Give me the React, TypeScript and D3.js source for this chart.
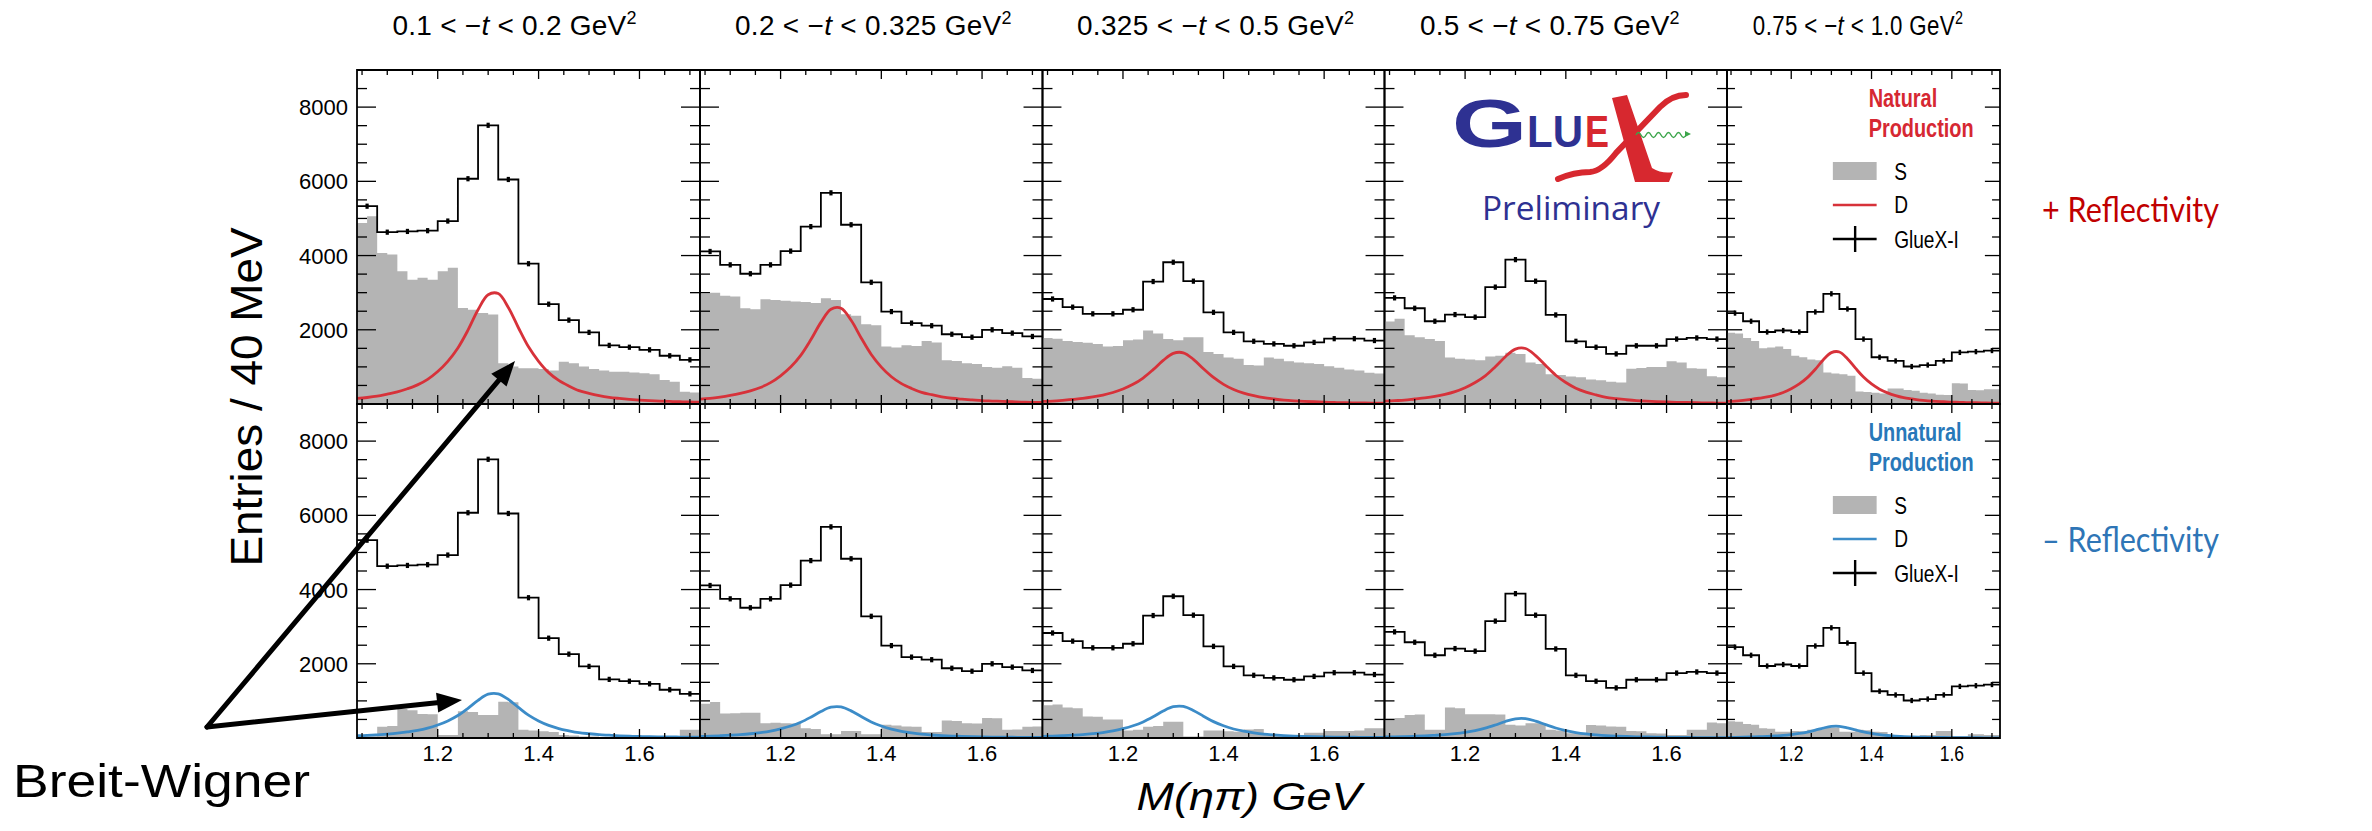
import React from 'react';
import * as d3 from 'd3';

// ---------------- data ----------------
const tLow = ['0.1', '0.2', '0.325', '0.5', '0.75'];
const tHigh = ['0.2', '0.325', '0.5', '0.75', '1.0'];

const massMin = 1.04;
const massMax = 1.72;
const dataBinWidth = 0.04;
const fineBinWidth = 0.02;
const yMax = 9000;

const yTickLabels = [2000, 4000, 6000, 8000];
const xTickLabels = [1.2, 1.4, 1.6];

// GlueX-I data, 40 MeV bins (same in both reflectivity rows)
const glueX_t1 = [5330, 4630, 4650, 4670, 4930, 6070, 7510, 6050, 3780, 2690, 2260, 1930, 1580, 1530, 1460, 1300, 1190];
const glueX_t2 = [4110, 3750, 3510, 3750, 4120, 4780, 5690, 4830, 3280, 2490, 2180, 2110, 1880, 1800, 2000, 1910, 1820];
const glueX_t3 = [2830, 2610, 2430, 2430, 2540, 3300, 3820, 3310, 2470, 1930, 1690, 1620, 1570, 1660, 1760, 1760, 1710];
const glueX_t4 = [2860, 2580, 2230, 2410, 2340, 3150, 3890, 3310, 2400, 1690, 1530, 1350, 1570, 1570, 1750, 1780, 1750];
const glueX_t5 = [2450, 2230, 1940, 1980, 1940, 2480, 2970, 2560, 1750, 1260, 1160, 1010, 1050, 1160, 1390, 1410, 1440];

// S wave, natural (+ reflectivity), 20 MeV bins
const sNat1 = [4880, 5060, 4070, 4030, 3580, 3350, 3400, 3350, 3580, 3670, 2590, 2540, 2450, 2410, 1100, 1010, 960, 960, 940, 900, 1140, 1100, 1010, 940, 900, 870, 870, 850, 830, 800, 650, 600, 330, 310];
const sNat2 = [2970, 3000, 2920, 2900, 2580, 2550, 2820, 2800, 2780, 2760, 2750, 2720, 2850, 2800, 2420, 2380, 2150, 2120, 1550, 1520, 1580, 1560, 1700, 1660, 1180, 1160, 1100, 1080, 1000, 980, 1020, 980, 700, 680];
const sNat3 = [1780, 1760, 1700, 1670, 1650, 1620, 1550, 1560, 1720, 1740, 1980, 1900, 1750, 1720, 1800, 1800, 1400, 1350, 1250, 1220, 1050, 1040, 1250, 1220, 1150, 1120, 1100, 1080, 1020, 980, 930, 900, 840, 820];
const sNat4 = [2220, 2300, 1850, 1800, 1750, 1700, 1250, 1220, 1200, 1180, 1280, 1300, 1380, 1350, 1120, 1080, 800, 780, 740, 720, 660, 640, 600, 580, 950, 970, 1000, 1000, 1150, 1120, 960, 950, 750, 720];
const sNat5 = [1920, 1900, 1780, 1700, 1500, 1520, 1550, 1480, 1300, 1260, 1200, 1180, 850, 820, 800, 760, 340, 320, 300, 280, 420, 420, 380, 360, 300, 280, 250, 240, 560, 550, 380, 370, 400, 400];

// S wave, unnatural (- reflectivity)
const sUnn1 = [50, 50, 300, 320, 780, 750, 650, 640, 80, 80, 720, 700, 620, 620, 980, 960, 220, 200, 180, 160, 80, 70, 40, 40, 30, 30, 20, 20, 20, 20, 20, 20, 220, 220];
const sUnn2 = [920, 970, 660, 670, 680, 680, 400, 410, 400, 390, 260, 240, 100, 100, 190, 190, 100, 100, 360, 340, 310, 300, 160, 160, 470, 460, 400, 390, 540, 530, 220, 230, 300, 310];
const sUnn3 = [880, 900, 820, 800, 580, 570, 500, 500, 200, 220, 300, 320, 440, 440, 40, 40, 200, 200, 180, 170, 230, 240, 80, 80, 60, 50, 140, 140, 190, 190, 190, 200, 260, 260];
const sUnn4 = [520, 540, 620, 630, 220, 220, 820, 800, 640, 640, 640, 630, 360, 340, 400, 400, 220, 200, 130, 120, 350, 340, 310, 300, 190, 180, 130, 120, 80, 80, 220, 220, 420, 400];
const sUnn5 = [450, 440, 380, 360, 260, 250, 170, 170, 190, 180, 220, 220, 280, 280, 170, 170, 220, 210, 170, 160, 80, 70, 50, 50, 80, 80, 190, 190, 50, 50, 100, 100, 80, 80];

// D wave (Breit-Wigner), sampled every 20 MeV from 1.04 to 1.72
const dNat1 = [150, 175, 210, 265, 325, 410, 515, 665, 875, 1150, 1510, 1990, 2540, 2945, 2975, 2600, 2055, 1540, 1150, 845, 635, 485, 360, 285, 225, 180, 150, 125, 105, 90, 80, 70, 60, 55, 50];
const dNat2 = [130, 150, 185, 230, 285, 355, 445, 575, 760, 995, 1310, 1730, 2200, 2555, 2580, 2255, 1780, 1335, 995, 735, 550, 420, 315, 250, 195, 155, 130, 110, 90, 80, 70, 60, 50, 45, 40];
const dNat3 = [70, 80, 100, 125, 150, 190, 240, 310, 405, 530, 700, 925, 1175, 1365, 1380, 1205, 950, 715, 530, 390, 295, 225, 170, 135, 105, 85, 70, 60, 50, 40, 35, 30, 30, 25, 20];
const dNat4 = [75, 90, 105, 135, 165, 205, 260, 335, 440, 580, 760, 1005, 1275, 1480, 1495, 1305, 1035, 775, 580, 425, 320, 245, 180, 145, 115, 90, 75, 65, 55, 45, 40, 35, 30, 25, 25];
const dNat5 = [70, 80, 100, 125, 155, 190, 240, 310, 410, 540, 710, 935, 1195, 1385, 1400, 1220, 965, 725, 540, 400, 300, 225, 170, 135, 105, 85, 70, 60, 50, 45, 35, 35, 30, 25, 25];
const dUnn1 = [60, 70, 85, 105, 130, 165, 205, 265, 350, 460, 605, 800, 1015, 1180, 1190, 1040, 825, 615, 460, 340, 255, 195, 145, 115, 90, 75, 60, 50, 40, 35, 30, 30, 25, 20, 20];
const dUnn2 = [43, 49, 60, 75, 92, 115, 145, 187, 247, 323, 425, 561, 714, 829, 837, 731, 578, 434, 323, 238, 179, 136, 102, 81, 64, 51, 43, 36, 30, 26, 22, 20, 17, 15, 14];
const dUnn3 = [43, 50, 61, 76, 93, 117, 147, 190, 251, 329, 433, 571, 727, 843, 852, 744, 588, 441, 329, 242, 182, 138, 104, 82, 65, 52, 43, 36, 30, 26, 22, 20, 17, 16, 14];
const dUnn4 = [27, 31, 37, 47, 57, 72, 90, 117, 154, 201, 265, 350, 445, 517, 522, 456, 360, 270, 201, 148, 111, 85, 64, 50, 40, 32, 27, 22, 19, 16, 14, 12, 11, 10, 8];
const dUnn5 = [16, 19, 22, 28, 35, 43, 54, 70, 93, 122, 160, 211, 269, 312, 315, 275, 218, 163, 122, 90, 67, 51, 38, 30, 24, 19, 16, 13, 11, 10, 8, 7, 6, 6, 5];

const glueXData = [glueX_t1, glueX_t2, glueX_t3, glueX_t4, glueX_t5];
const sNat = [sNat1, sNat2, sNat3, sNat4, sNat5];
const sUnn = [sUnn1, sUnn2, sUnn3, sUnn4, sUnn5];
const dNat = [dNat1, dNat2, dNat3, dNat4, dNat5];
const dUnn = [dUnn1, dUnn2, dUnn3, dUnn4, dUnn5];

// ---------------- layout / style ----------------
const W = 2372;
const H = 831;
const panelEdges = [357, 700, 1042.5, 1384.5, 1727, 2000];
const rowTops = [70, 404];
const PW = 343;
const PH = 334;
const titleWidths = [244, 277, 278, 260, 264];
const titleShift = [-14, 2, 2, -6, -7];

const FONT = "'Liberation Sans', Arial, Helvetica, sans-serif";
const GRAY = '#b4b4b4';
const RED_D = '#d7323a';
const BLUE_D = '#3c8cc8';
const RED_HDR = '#d62832';
const BLUE_HDR = '#2878b9';
const NAVY = '#2e3192';
const LOGO_RED = '#d7282f';

const NS = { vectorEffect: 'non-scaling-stroke' } as any;

function Panel({ col, row }: { col: number; row: number }) {
  const x = d3.scaleLinear().domain([massMin, massMax]).range([0, PW]);
  const y = d3.scaleLinear().domain([0, yMax]).range([PH, 0]);
  const sx = (panelEdges[col + 1] - panelEdges[col]) / PW;
  const clipId = `clip-${row}-${col}`;

  const data = glueXData[col];
  const s = row === 0 ? sNat[col] : sUnn[col];
  const d = row === 0 ? dNat[col] : dUnn[col];
  const dColor = row === 0 ? RED_D : BLUE_D;

  const sEdges = d3.range(s.length + 1).map((i) => massMin + i * fineBinWidth);
  const sPath = d3
    .area<number>()
    .x((m) => x(m))
    .y0(y(0))
    .y1((_m, i) => y(s[Math.min(i, s.length - 1)]))
    .curve(d3.curveStepAfter)(sEdges);

  const dMass = d3.range(d.length).map((i) => massMin + i * fineBinWidth);
  const dPath = d3
    .line<number>()
    .x((m) => x(m))
    .y((_m, i) => y(d[i]))
    .curve(d3.curveCatmullRom.alpha(0.5))(dMass);

  const dataEdges = d3.range(data.length + 1).map((i) => massMin + i * dataBinWidth);
  const dataPath = d3
    .line<number>()
    .x((m) => x(m))
    .y((_m, i) => y(data[Math.min(i, data.length - 1)]))
    .curve(d3.curveStepAfter)(dataEdges);

  const xTicks = d3.range(14).map((i) => +(1.05 + i * 0.05).toFixed(2));
  const yTicks = d3.range(1, 18).map((i) => i * 500);
  const isMajorX = (v: number) => xTickLabels.some((t) => Math.abs(t - v) < 1e-6);

  return (
    <g transform={`translate(${panelEdges[col]},${rowTops[row]}) scale(${sx},1)`}>
      <defs>
        <clipPath id={clipId}>
          <rect x={0} y={0} width={PW} height={PH} />
        </clipPath>
      </defs>
      <g clipPath={`url(#${clipId})`}>
        <path d={sPath || ''} fill={GRAY} stroke="none" />
        <path d={dPath || ''} fill="none" stroke={dColor} strokeWidth={2.8} style={NS} />
        <path d={dataPath || ''} fill="none" stroke="#000" strokeWidth={1.8} style={NS} />
        {data.map((v, i) => (
          <rect
            key={i}
            x={x(massMin + (i + 0.5) * dataBinWidth) - 1.6}
            y={y(v) - 2.6}
            width={3.2}
            height={5.2}
            fill="#000"
          />
        ))}
      </g>
      {/* ticks */}
      {xTicks.map((v) => {
        const len = isMajorX(v) ? 9 : 5;
        const xx = x(v);
        return (
          <g key={`xt${v}`}>
            <line x1={xx} x2={xx} y1={0} y2={len} stroke="#000" strokeWidth={1.3} style={NS} />
            <line x1={xx} x2={xx} y1={PH} y2={PH - len} stroke="#000" strokeWidth={1.3} style={NS} />
          </g>
        );
      })}
      {yTicks.map((v) => {
        const len = v % 2000 === 0 ? 19 : 10;
        const yy = y(v);
        return (
          <g key={`yt${v}`}>
            <line x1={0} x2={len} y1={yy} y2={yy} stroke="#000" strokeWidth={1.3} />
            <line x1={PW} x2={PW - len} y1={yy} y2={yy} stroke="#000" strokeWidth={1.3} />
          </g>
        );
      })}
      <rect x={0} y={0} width={PW} height={PH} fill="none" stroke="#000" strokeWidth={1.8} style={NS} />

      {/* y tick labels */}
      {col === 0 &&
        yTickLabels.map((v) => (
          <text key={`yl${v}`} x={-9} y={y(v) + 8} textAnchor="end" fontSize={22} fill="#000">
            {v}
          </text>
        ))}
      {/* x tick labels */}
      {row === 1 &&
        xTickLabels.map((v) => (
          <text key={`xl${v}`} x={x(v)} y={PH + 23} textAnchor="middle" fontSize={22} fill="#000">
            {v.toFixed(1)}
          </text>
        ))}
      {/* title */}
      {row === 0 && (
        <text
          x={PW / 2 + titleShift[col]}
          y={-35}
          textAnchor="middle"
          fontSize={28}
          textLength={titleWidths[col]}
          lengthAdjust="spacing"
          fill="#000"
        >
          {`${tLow[col]} < \u2212`}
          <tspan fontStyle="italic">t</tspan>
          {` < ${tHigh[col]} GeV`}
          <tspan dy={-11} fontSize={18}>
            2
          </tspan>
        </text>
      )}
      {/* legend */}
      {col === 4 && (
        <g>
          <text x={178} y={37} fontSize={25} fontWeight="bold" fill={row === 0 ? RED_HDR : BLUE_HDR}>
            {row === 0 ? 'Natural' : 'Unnatural'}
          </text>
          <text x={178} y={67} fontSize={25} fontWeight="bold" fill={row === 0 ? RED_HDR : BLUE_HDR}>
            Production
          </text>
          <rect x={133} y={92} width={55} height={18} fill={GRAY} />
          <text x={210} y={110} fontSize={24} fill="#000">S</text>
          <line x1={133} x2={188} y1={135} y2={135} stroke={dColor} strokeWidth={2.6} style={NS} />
          <text x={210} y={143} fontSize={24} fill="#000">D</text>
          <line x1={133} x2={188} y1={169} y2={169} stroke="#000" strokeWidth={2.4} style={NS} />
          <line x1={161} x2={161} y1={156} y2={182} stroke="#000" strokeWidth={2.4} style={NS} />
          <text x={210} y={178} fontSize={24} fill="#000">GlueX-I</text>
        </g>
      )}
    </g>
  );
}

function Arrow({ from, to }: { from: number[]; to: number[] }) {
  const dx = to[0] - from[0];
  const dy = to[1] - from[1];
  const len = Math.sqrt(dx * dx + dy * dy);
  const ux = dx / len;
  const uy = dy / len;
  const headL = 25;
  const headW = 10;
  const bx = to[0] - ux * headL;
  const by = to[1] - uy * headL;
  const p1 = [bx - uy * headW, by + ux * headW];
  const p2 = [bx + uy * headW, by - ux * headW];
  return (
    <g>
      <line x1={from[0]} y1={from[1]} x2={bx + ux * 2} y2={by + uy * 2} stroke="#000" strokeWidth={5} strokeLinecap="round" />
      <polygon points={`${to[0]},${to[1]} ${p1[0]},${p1[1]} ${p2[0]},${p2[1]}`} fill="#000" />
    </g>
  );
}

function Logo() {
  return (
    <g>
      <text transform="translate(1452,147) scale(1.42,1)" fontSize={68} fontWeight="bold" fill={NAVY} fontFamily={FONT}>
        G
      </text>
      <text x={1527} y={147} fontSize={45} fontWeight="bold" fill={NAVY} textLength={56} lengthAdjust="spacingAndGlyphs">
        LU
      </text>
      <text x={1585} y={147} fontSize={45} fontWeight="bold" fill={LOGO_RED} textLength={24} lengthAdjust="spacingAndGlyphs">
        E
      </text>
      {/* stylised X */}
      <path d="M1612,98 L1627,95 L1652,168 Q1662,174 1673,172 L1669,182 L1635,182 Z" fill={LOGO_RED} />
      <path d="M1558,179 Q1574,172 1590,172 Q1602,171 1616,153 L1660,107 Q1672,95 1686,95" fill="none" stroke={LOGO_RED} strokeWidth={6} strokeLinecap="round" />
      <path d="M1636,135 q2.5,-5 5,0 t5,0 t5,0 t5,0 t5,0 t5,0 t5,0 t5,0 t5,0 t5,0" fill="none" stroke="#3ba54a" strokeWidth={1.4} />
      <polygon points="1691,134 1685,131 1685,137" fill="#3ba54a" />
      <text x={1482} y={220} fontSize={33} fill={NAVY} fontFamily="'Open Sans', 'Noto Sans', sans-serif" textLength={178} lengthAdjust="spacingAndGlyphs">
        Preliminary
      </text>
    </g>
  );
}

export default function App() {
  const rows = [0, 1];
  const cols = [0, 1, 2, 3, 4];
  return (
    <svg
      width={W}
      height={H}
      viewBox={`0 0 ${W} ${H}`}
      style={{ position: 'absolute', left: 0, top: 0, background: '#fff' }}
      fontFamily={FONT}
    >
      <rect x={0} y={0} width={W} height={H} fill="#fff" />
      {rows.map((r) => cols.map((c) => <Panel key={`${r}-${c}`} row={r} col={c} />))}

      <Logo />

      <text transform="translate(262,397) rotate(-90)" textAnchor="middle" fontSize={45} fill="#000" textLength={339} lengthAdjust="spacingAndGlyphs">
        Entries / 40 MeV
      </text>
      <text x={1249} y={810} textAnchor="middle" fontSize={39} fontStyle="italic" fill="#000" textLength={225} lengthAdjust="spacingAndGlyphs">
        M(ηπ) GeV
      </text>

      <text x={2042} y={222} fontSize={35} fill="#c00000" fontFamily="Lato, 'Open Sans', sans-serif" textLength={177} lengthAdjust="spacingAndGlyphs">
        + Reflectivity
      </text>
      <text x={2042} y={552} fontSize={35} fill="#2e75b6" fontFamily="Lato, 'Open Sans', sans-serif" textLength={177} lengthAdjust="spacingAndGlyphs">
        – Reflectivity
      </text>

      <text x={13} y={797} fontSize={47} fill="#000" textLength={297} lengthAdjust="spacingAndGlyphs">
        Breit-Wigner
      </text>
      <Arrow from={[207, 727]} to={[515, 361]} />
      <Arrow from={[207, 727]} to={[462, 700]} />
    </svg>
  );
}
